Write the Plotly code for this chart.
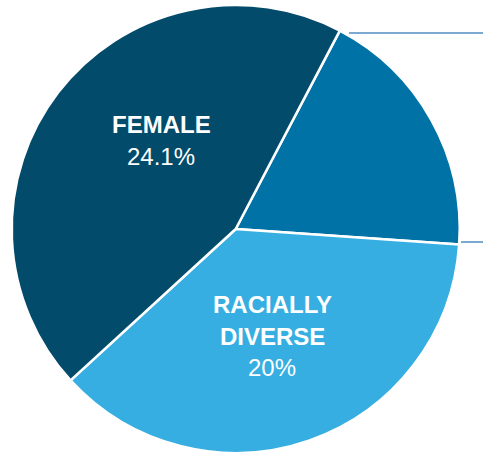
import plotly.graph_objects as go

W, H = 483, 453

# Slice shares, clockwise starting at ~27.7 deg
segments = ["Other", "Racially diverse", "Female"]
values = [18.4, 37.1, 44.5]
colors = ["#0172a5", "#36aee1", "#034b6b"]

label_lines = [
    ("<b>FEMALE</b>", 161, 124),
    ("24.1%", 161, 156),
    ("<b>RACIALLY</b>", 272, 304),
    ("<b>DIVERSE</b>", 272, 336),
    ("20%", 272, 367),
]

cx, cy, r = 235.7, 229.0, 224.0

fig = go.Figure(go.Pie(
    labels=segments,
    values=values,
    sort=False,
    direction="clockwise",
    rotation=27.7,
    textinfo="none",
    marker=dict(colors=colors, line=dict(color="white", width=2.5)),
    domain=dict(x=[(cx - r) / W, (cx + r) / W], y=[1 - (cy + r) / H, 1 - (cy - r) / H]),
    showlegend=False,
))

annotations = []
for text, px, py in label_lines:
    annotations.append(dict(
        text=text, x=px / W, y=1 - py / H, xref="paper", yref="paper",
        xanchor="center", yanchor="middle", showarrow=False,
        font=dict(family="Liberation Sans, Arial, sans-serif", size=24, color="white"),
    ))

shapes = [
    dict(type="line", xref="paper", yref="paper", x0=349 / W, x1=1.0,
         y0=1 - 33 / H, y1=1 - 33 / H, line=dict(color="#4f8cbf", width=1.5)),
    dict(type="line", xref="paper", yref="paper", x0=461 / W, x1=1.0,
         y0=1 - 242 / H, y1=1 - 242 / H, line=dict(color="#4f8cbf", width=1.5)),
]

fig.update_layout(
    width=W, height=H,
    margin=dict(l=0, r=0, t=0, b=0),
    paper_bgcolor="white", plot_bgcolor="white",
    annotations=annotations, shapes=shapes,
)

fig.write_html(
    "out.html",
    config={"displayModeBar": False},
    post_script="document.body.style.margin='0';document.body.style.overflow='hidden';",
)
